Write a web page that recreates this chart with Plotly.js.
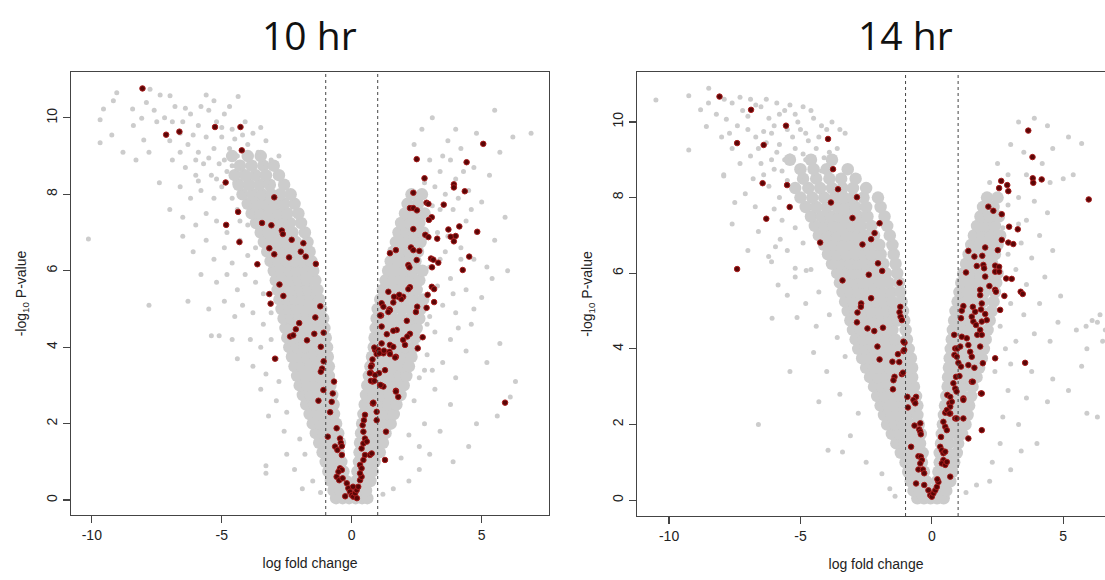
<!DOCTYPE html>
<html><head><meta charset="utf-8">
<script src="https://cdn.plot.ly/plotly-3.0.1.min.js"></script>
<style>html,body{margin:0;padding:0;overflow:hidden;background:#fff}#chart{width:1115px;height:580px}</style>
</head><body><div id="chart"></div>
<script>
const panelTitles = ['10 hr', '14 hr'];
const xTitle = 'log fold change';
const yTitle = '-log<sub>10</sub> P-value';
const xTickVals = [-10, -5, 0, 5];
const xTickText = ['-10', '-5', '0', '5'];
const yTickVals = [0, 2, 4, 6, 8, 10];
const yTickText = ['0', '2', '4', '6', '8', '10'];
const foldThresholds = [-1, 1];

// dense gray cloud, rows: [y, x1, x2, ...]
const core10 = [
[0.05,-0.6,-0.35,-0.1,0.15,0.4,0.6],
[0.25,-0.7,-0.45,-0.2,0.05,0.3,0.55],
[0.5,-0.8,-0.5,-0.22,0.18,0.45,0.72],
[0.75,-0.9,-0.62,-0.32,0.22,0.5,0.8],
[1,-1.0,-0.7,-0.4,0.28,0.58,0.88],
[1.25,-1.12,-0.82,-0.5,0.3,0.6,0.9,1.08],
[1.5,-1.25,-0.95,-0.65,-0.45,0.32,0.62,0.92,1.2],
[1.75,-1.38,-1.08,-0.78,-0.52,0.36,0.66,0.96,1.3],
[2,-1.5,-1.2,-0.9,-0.6,0.4,0.7,1.0,1.3,1.5],
[2.25,-1.62,-1.32,-1.02,-0.68,0.45,0.75,1.05,1.35,1.62],
[2.5,-1.75,-1.45,-1.15,-0.85,-0.7,0.5,0.8,1.1,1.4,1.72],
[2.75,-1.88,-1.58,-1.28,-0.98,-0.75,0.55,0.85,1.15,1.45,1.75,1.88],
[3,-2.0,-1.7,-1.4,-1.1,-0.82,0.6,0.9,1.2,1.5,1.8,2.0],
[3.25,-2.1,-1.8,-1.5,-1.2,-0.88,0.66,0.96,1.26,1.56,1.86,2.1],
[3.5,-2.2,-1.9,-1.6,-1.3,-1.0,-0.88,0.72,1.02,1.32,1.62,1.92,2.2],
[3.75,-2.3,-2.0,-1.7,-1.4,-1.1,-0.92,0.78,1.08,1.38,1.68,1.98,2.3],
[4,-2.4,-2.1,-1.8,-1.5,-1.2,-0.95,0.85,1.15,1.45,1.75,2.05,2.38],
[4.25,-2.48,-2.18,-1.88,-1.58,-1.28,-1.0,0.88,1.18,1.48,1.78,2.1,2.45],
[4.5,-2.55,-2.25,-1.95,-1.65,-1.35,-1.05,0.92,1.22,1.52,1.82,2.15,2.5],
[4.75,-2.62,-2.32,-2.02,-1.72,-1.42,-1.1,0.96,1.26,1.56,1.9,2.25,2.6],
[5,-2.7,-2.4,-2.1,-1.8,-1.5,-1.18,1.0,1.3,1.6,1.95,2.3,2.65],
[5.25,-2.78,-2.48,-2.18,-1.88,-1.58,-1.25,1.1,1.4,1.7,2.05,2.4,2.75],
[5.5,-2.85,-2.55,-2.25,-1.95,-1.65,-1.32,1.2,1.5,1.82,2.15,2.5],
[5.75,-2.92,-2.62,-2.32,-2.02,-1.72,-1.4,1.3,1.6,1.92,2.25,2.6],
[6,-3.0,-2.7,-2.4,-2.1,-1.8,-1.48,1.4,1.7,2.02,2.35,2.72],
[6.25,-3.12,-2.82,-2.52,-2.22,-1.9,-1.55,1.5,1.8,2.1,2.45],
[6.5,-3.25,-2.95,-2.65,-2.35,-2.0,-1.62,1.6,1.9,2.2,2.55],
[6.75,-3.38,-3.08,-2.78,-2.48,-2.15,-1.7,1.7,2.0,2.3,2.65],
[7,-3.5,-3.2,-2.9,-2.6,-2.28,-1.8,1.8,2.1,2.4,2.75],
[7.25,-3.68,-3.35,-3.02,-2.7,-2.38,-1.95,1.9,2.25,2.6],
[7.5,-3.85,-3.5,-3.15,-2.82,-2.48,-2.05,2.05,2.4,2.8],
[7.75,-4.0,-3.65,-3.3,-2.95,-2.6,-2.2,2.15,2.55],
[8,-4.2,-3.8,-3.45,-3.1,-2.75,-2.35,2.3,2.7],
[8.25,-4.35,-3.95,-3.55,-3.15,-2.6],
[8.5,-4.5,-4.1,-3.7,-3.3,-2.8],
[8.75,-4.3,-3.85,-3.4,-3.0],
[9,-4.6,-4.0,-3.5]
];

const core14 = [
[0.05,-0.55,-0.3,-0.05,0.2,0.45],
[0.25,-0.7,-0.45,-0.2,0.05,0.3,0.55],
[0.5,-0.8,-0.5,-0.22,0.2,0.45,0.7],
[0.75,-0.9,-0.62,-0.3,0.25,0.55,0.78],
[1,-1.0,-0.7,-0.38,0.3,0.58,0.85],
[1.25,-1.18,-0.88,-0.58,-0.35,0.3,0.6,0.95],
[1.5,-1.35,-1.05,-0.75,-0.45,0.35,0.65,1.0],
[1.75,-1.52,-1.22,-0.92,-0.62,-0.42,0.38,0.68,0.98,1.15],
[2,-1.7,-1.4,-1.1,-0.8,-0.5,0.42,0.72,1.02,1.28],
[2.25,-1.82,-1.52,-1.22,-0.92,-0.55,0.46,0.76,1.06,1.36],
[2.5,-1.95,-1.65,-1.35,-1.05,-0.75,-0.55,0.5,0.8,1.1,1.42],
[2.75,-2.08,-1.78,-1.48,-1.18,-0.88,-0.6,0.55,0.85,1.15,1.5],
[3,-2.2,-1.9,-1.6,-1.3,-1.0,-0.68,0.6,0.9,1.2,1.55],
[3.25,-2.35,-2.05,-1.75,-1.45,-1.15,-0.75,0.62,0.92,1.22,1.52,1.7],
[3.5,-2.5,-2.2,-1.9,-1.6,-1.3,-0.95,-0.75,0.65,0.95,1.25,1.55,1.8],
[3.75,-2.65,-2.35,-2.05,-1.75,-1.45,-1.12,-0.8,0.68,0.98,1.28,1.58,1.9],
[4,-2.8,-2.5,-2.2,-1.9,-1.6,-1.3,-0.88,0.72,1.02,1.32,1.62,1.98],
[4.25,-2.9,-2.6,-2.3,-2.0,-1.7,-1.4,-0.95,0.76,1.06,1.36,1.7,2.05],
[4.5,-3.0,-2.7,-2.4,-2.1,-1.8,-1.5,-1.0,0.8,1.1,1.4,1.75,2.12],
[4.75,-3.1,-2.8,-2.5,-2.2,-1.9,-1.6,-1.3,-1.05,0.85,1.15,1.45,1.8,2.2],
[5,-3.2,-2.9,-2.6,-2.3,-2.0,-1.7,-1.4,-1.1,0.9,1.2,1.5,1.85,2.28],
[5.25,-3.3,-3.0,-2.7,-2.4,-2.1,-1.8,-1.5,-1.15,0.98,1.28,1.6,1.95,2.35],
[5.5,-3.4,-3.1,-2.8,-2.5,-2.2,-1.9,-1.55,-1.2,1.05,1.35,1.68,2.0,2.4],
[5.75,-3.5,-3.2,-2.9,-2.6,-2.3,-2.0,-1.65,-1.25,1.12,1.42,1.75,2.1,2.45],
[6,-3.6,-3.3,-3.0,-2.7,-2.4,-2.1,-1.75,-1.32,1.2,1.52,1.85,2.2,2.5],
[6.25,-3.8,-3.45,-3.1,-2.8,-2.5,-2.2,-1.85,-1.38,1.3,1.62,1.95,2.3],
[6.5,-3.95,-3.6,-3.25,-2.9,-2.6,-2.3,-1.95,-1.45,1.4,1.72,2.05,2.4],
[6.75,-4.1,-3.75,-3.4,-3.05,-2.7,-2.35,-2.0,-1.5,1.5,1.82,2.15,2.5],
[7,-4.3,-3.95,-3.6,-3.25,-2.9,-2.55,-2.2,-1.6,1.6,1.92,2.25,2.6],
[7.25,-4.45,-4.1,-3.75,-3.4,-3.05,-2.7,-2.3,-1.7,1.72,2.05,2.4],
[7.5,-4.6,-4.2,-3.85,-3.5,-3.15,-2.8,-2.45,-1.8,1.85,2.2,2.55],
[7.75,-4.8,-4.4,-4.0,-3.6,-3.25,-2.9,-2.5,-1.95,1.95,2.35],
[8,-5.0,-4.55,-4.1,-3.7,-3.35,-3.0,-2.6,-2.05,2.1,2.5],
[8.25,-5.2,-4.7,-4.25,-3.8,-3.4,-3.0,-2.5],
[8.5,-4.9,-4.4,-3.9,-3.45,-2.9],
[8.75,-5.0,-4.5,-4.0,-3.2],
[9,-5.4,-4.6,-3.8]
];

// scattered gray genes [x, y]
const sparse10 = [
[-10.13,6.83],[-9.04,10.66],[-9.17,10.45],[-9.55,10.23],[-9.68,9.95],[-9.23,9.55],[-9.68,9.35],[-8.43,10.23],[-8.08,9.99],[-8.0,9.42],[-8.4,9.8],[-8.8,9.1],[-8.3,8.9],[-7.76,10.75],[-7.37,10.6],[-6.99,10.58],[-7.6,10.2],[-7.2,10.0],[-6.8,10.3],[-6.5,9.9],[-6.2,10.1],[-5.9,9.8],[-5.6,10.6],[-5.5,10.2],[-5.2,9.9],[-4.9,10.1],[-4.6,9.7],[-4.37,10.56],[-4.1,9.9],[-3.8,9.6],[-7.8,9.1],[-7.0,9.4],[-6.6,9.6],[-6.3,9.3],[-5.9,9.1],[-5.6,9.5],[-5.3,9.2],[-5.0,9.5],[-4.7,9.2],[-4.4,9.0],[-4.0,9.3],[-3.6,9.1],[-3.3,9.4],[-7.4,8.3],[-6.9,8.9],[-6.4,8.7],[-6.0,8.5],[-5.7,8.8],[-5.4,8.5],[-5.1,8.8],[-4.8,8.6],[-4.5,8.3],[-4.2,8.7],[-3.9,8.45],[-3.45,8.7],[-3.1,8.9],[-2.8,9.0],[-6.6,8.2],[-6.2,7.9],[-5.8,8.1],[-5.3,7.9],[-5.0,8.2],[-4.6,7.9],[-7.0,7.6],[-6.5,7.4],[-6.0,7.2],[-5.6,7.5],[-5.2,7.3],[-4.8,7.0],[-4.4,7.6],[-4.0,7.2],[-6.5,6.9],[-6.1,6.5],[-5.6,6.8],[-5.3,6.3],[-4.9,6.6],[-4.6,6.2],[-4.3,6.8],[-4.0,6.4],[-3.7,6.6],[-5.8,5.9],[-5.2,5.7],[-4.8,5.9],[-4.4,5.5],[-4.1,5.9],[-3.7,5.7],[-3.4,5.4],[-6.3,5.2],[-5.5,5.0],[-4.9,5.2],[-4.5,4.8],[-4.2,5.1],[-3.8,4.9],[-3.4,4.6],[-3.1,4.9],[-5.1,4.3],[-4.6,4.2],[-3.9,4.2],[-3.5,4.0],[-3.1,4.2],[-2.9,3.7],[-4.4,3.7],[-3.8,3.5],[-3.3,3.3],[-2.8,3.1],[-3.5,2.9],[-2.9,2.6],[-2.5,2.3],[-3.2,2.2],[-2.6,1.8],[-2.0,1.6],[-3.3,0.9],[-3.3,0.7],[-2.5,1.2],[-2.2,0.8],[-1.8,1.2],[-1.5,0.5],[-1.9,0.3],[-1.2,0.2],[-7.8,5.1],[-5.4,4.3],
[-7.9,10.4],[-7.5,9.9],[-6.9,9.9],[-6.4,10.25],[-6.1,9.55],[-5.8,10.3],[-5.3,10.45],[-5.0,9.75],[-4.7,10.3],[-4.5,9.45],[-4.2,9.55],[-3.9,9.0],[-3.5,9.75],[-6.6,9.1],[-6.0,8.9],[-5.5,8.95],[-4.9,8.9],[-4.6,8.75],[-3.7,8.6],[-3.3,8.3],[-5.2,8.4],[-5.9,8.35],[-4.1,8.1],[-3.7,7.9],[-4.3,7.3],[-3.9,7.7],
[3.0,1.2],[2.6,0.8],[2.2,0.5],[1.6,0.3],[1.2,0.15],[3.4,1.8],[2.8,2.0],[3.8,2.5],[3.2,2.9],[2.6,3.2],[4.0,3.2],[3.5,3.6],[2.9,3.8],[4.4,3.9],[3.8,4.2],[3.2,4.4],[4.6,4.6],[4.0,4.9],[3.5,5.1],[5.0,5.3],[4.4,5.5],[3.8,5.8],[3.3,5.6],[5.2,6.1],[4.7,6.3],[4.2,6.6],[3.6,6.5],[5.5,6.8],[4.8,7.0],[4.4,7.3],[3.9,7.6],[5.0,7.8],[4.5,8.1],[4.0,8.4],[3.4,8.6],[3.0,8.9],[4.7,8.7],[5.3,8.5],[4.2,9.2],[3.7,9.4],[4.8,9.6],[5.5,10.2],[6.9,9.6],[6.2,9.5],[5.7,9.1],[5.9,7.4],[6.3,3.1],[6.1,2.7],[5.6,2.2],[4.8,2.0],[4.5,1.4],[3.9,1.0],[5.2,3.6],[5.7,4.1],[2.4,9.3],[2.7,9.7],[3.1,10.0],[6.0,6.0],[3.3,7.0],[3.1,7.7],[2.8,8.3],[3.6,8.0],[4.1,7.9],[3.0,6.1],[3.4,6.3],[2.9,4.6],[3.1,3.4],[2.4,2.6],[2.2,1.7],[1.9,1.1],[2.6,1.4],
[3.5,9.0],[4.0,9.7],[4.3,8.6],[3.8,8.9],[3.2,8.2],[4.6,7.6],[3.4,7.6],[4.2,6.3],[3.7,6.9],[3.9,5.4],[3.0,4.8],[2.8,3.4],[4.1,4.5],[5.4,5.8],[4.7,5.0]
];

const sparse14 = [
[-10.5,10.58],[-9.25,10.69],[-8.49,10.89],[-8.8,10.32],[-8.5,10.5],[-9.25,9.26],[-8.58,9.88],[-7.82,10.07],[-7.92,8.57],[-7.5,7.87],[-6.72,7.76],[-7.6,10.5],[-7.2,10.3],[-6.9,10.6],[-6.5,10.4],[-6.2,10.1],[-5.9,10.5],[-5.6,10.3],[-5.2,10.2],[-4.9,10.4],[-4.5,10.1],[-4.2,9.9],[-3.8,10.0],[-7.4,9.9],[-7.0,9.8],[-6.7,9.6],[-6.1,9.7],[-5.8,9.4],[-5.3,9.6],[-5.0,9.8],[-4.7,9.5],[-4.4,9.3],[-3.6,9.3],[-3.3,9.7],[-6.9,9.1],[-6.5,8.9],[-6.1,9.0],[-5.7,8.7],[-5.4,9.1],[-5.1,8.8],[-4.8,9.0],[-4.2,8.7],[-6.8,8.5],[-6.2,8.3],[-5.8,8.0],[-7.1,8.1],[-6.0,7.7],[-5.7,7.4],[-5.2,7.2],[-6.6,7.1],[-4.9,6.8],[-5.5,6.6],[-6.1,6.3],[-4.6,6.1],[-5.2,5.9],[-4.3,5.5],[-4.8,5.2],[-3.9,4.9],[-4.4,4.6],[-3.6,4.3],[-5.85,5.69],[-5.5,5.42],[-6.08,4.81],[-5.13,4.83],[-5.77,6.9],[-5.95,6.7],[-6.21,6.44],[-5.2,6.13],[-4.78,6.07],[-7.92,8.6],[-6.6,2.0],[-3.95,1.32],[-3.4,1.27],[-2.5,1.0],[-1.9,0.7],[-1.6,0.3],[-3.1,1.7],[-2.8,2.3],[-3.5,2.8],[-4.0,3.4],[-1.4,0.1],[-3.3,3.8],[-4.5,3.9],[-5.4,3.4],[-4.3,2.6],[-7.6,7.3],[-7.0,6.6],
[-8.2,10.2],[-7.9,10.6],[-7.7,9.7],[-7.3,10.65],[-7.0,10.15],[-6.7,10.45],[-6.4,9.75],[-6.3,10.6],[-6.0,9.9],[-5.8,10.2],[-5.5,9.8],[-5.4,10.45],[-5.1,10.0],[-4.8,9.7],[-4.6,10.3],[-4.3,9.6],[-4.0,9.8],[-3.9,9.2],[-3.5,9.8],[-6.6,9.3],[-6.3,9.45],[-5.9,9.2],[-5.6,9.0],[-5.2,9.3],[-4.9,9.15],[-4.5,8.9],[-4.1,9.05],[-3.8,8.8],[-6.4,8.6],[-6.0,8.75],[-5.5,8.45],[-5.0,8.55],[-4.7,8.3],[-7.3,8.9],[-7.6,9.3],[-8.0,9.6],
[3.3,10.0],[3.9,10.1],[4.4,9.9],[5.2,9.6],[4.6,9.3],[3.5,9.2],[3.0,9.4],[4.2,8.9],[3.6,8.6],[4.5,8.4],[5.0,8.5],[3.3,8.0],[3.9,7.9],[4.4,7.6],[3.6,7.4],[4.1,7.0],[3.4,6.8],[4.6,6.6],[3.8,6.4],[3.2,6.1],[4.3,5.9],[3.6,5.7],[4.9,5.4],[4.1,5.2],[3.5,4.9],[4.8,4.7],[5.5,4.5],[6.3,4.7],[6.6,4.5],[6.4,4.9],[6.5,4.2],[5.9,4.0],[4.5,4.2],[3.9,4.4],[3.2,4.2],[3.0,3.6],[3.8,3.4],[4.6,3.2],[5.2,2.9],[5.9,2.3],[4.4,2.6],[3.6,2.7],[2.9,2.9],[3.3,2.0],[2.7,2.2],[4.0,1.5],[3.4,1.3],[2.6,1.5],[2.3,1.0],[2.2,0.5],[1.7,0.4],[1.3,0.2],[3.0,0.8],[2.4,3.4],[2.8,4.0],[2.6,4.6],[3.0,5.2],[2.9,6.5],[3.3,7.3],[2.7,7.2],[2.9,7.8],[6.3,2.2],[5.7,3.54],[5.38,8.6],[5.7,9.43],[5.87,4.6],[6.1,4.75],[2.5,8.9],[2.9,8.6],[2.2,8.4]
];

// highlighted (dark red) genes [x, y]
const red10 = [
[-8.05,10.77],[-7.14,9.56],[-6.63,9.64],[-5.26,9.76],[-4.28,9.76],[-4.23,9.15],[-4.85,8.31],[-2.98,7.92],[-4.37,7.54],[-4.83,7.2],[-3.45,7.25],[-3.09,7.19],[-2.69,7.05],[-2.65,6.96],[-4.32,6.75],[-2.31,6.81],[-1.86,6.72],[-3.17,6.59],[-2.98,6.43],[-1.96,6.5],[-1.77,6.37],[-2.41,6.35],[-1.38,6.18],[-3.63,6.17],[-2.78,5.64],[-3.17,5.39],[-2.63,5.34],[-3.12,5.14],[-1.21,5.07],[-1.4,4.78],[-2.02,4.63],[-2.15,4.47],[-1.08,4.38],[-1.44,4.35],[-2.37,4.28],[-2.25,4.31],[-1.72,4.18],[-1.19,4.01],[-2.95,3.7],[-1.08,3.63],[-1.14,3.44],[-1.19,3.36],[-0.68,3.1],[-1.09,2.88],[-0.73,2.79],[-1.28,2.6],[-0.77,2.57],[-0.83,2.3],[-0.58,1.88],[-0.92,1.66],[-0.45,1.61],[-0.42,1.5],[-0.64,1.4],[-0.38,1.41],[-0.55,1.31],[-0.38,1.18],[-0.45,0.83],[-0.38,0.79],[-0.51,0.74],[-0.58,0.61],[-0.48,0.52],[-0.35,0.57],[-0.19,0.44],[-0.13,0.31],[-0.07,0.22],[0,0.13],[0.06,0.09],[0.13,0.18],[0.19,0.26],[0.25,0.35],[0.32,0.52],[0.38,0.61],[0.32,0.92],[0.38,0.83],[0.32,0.7],[0.45,1.05],[0.51,1.18],[0.38,1.35],[0.45,1.48],[0.51,1.61],[0.58,1.53],[0.7,1.18],[0.77,1.22],[0.45,1.79],[0.42,1.96],[0.47,2.09],[0.51,2.23],[1.28,1.05],[1.32,1.79],[0.96,2.09],[0.96,2.31],[0.83,2.53],[0.8,3.1],[1.09,3.01],[1.7,2.86],[-0.25,0.1],[0.2,0.05],[0.05,0.35],
[1.7,6.54],[1.47,6.46],[1.41,5.45],[1.15,5.15],[1.22,5.06],[1.45,4.99],[1.79,5.32],[1.6,5.17],[1.13,4.83],[1.15,4.54],[1.35,4.34],[1.73,4.45],[0.9,3.93],[0.96,3.82],[1.02,3.93],[1.22,3.84],[1.45,3.88],[1.7,3.75],[0.77,3.53],[0.74,3.33],[0.74,3.12],[0.87,3.12],[1.05,3.32],[1.28,3.4],[1.15,2.99],[1.22,2.97],[0.81,2.53],[1.79,2.7],
[5.06,9.32],[2.5,8.92],[4.42,8.84],[2.8,8.42],[3.93,8.26],[3.93,8.18],[4.35,8.08],[2.37,8.04],[2.88,7.78],[2.95,7.75],[3.54,7.73],[2.24,7.64],[2.37,7.64],[2.51,7.58],[3.08,7.4],[2.97,7.33],[2.37,7.09],[4.83,7.02],[3.72,7.08],[3.81,6.89],[3.93,6.77],[4.0,6.91],[2.83,6.94],[2.95,6.88],[3.29,6.84],[4.14,7.16],[2.28,6.61],[2.37,6.54],[2.6,6.52],[2.5,6.28],[3.05,6.32],[3.14,6.29],[3.33,6.21],[2.18,6.15],[2.22,6.09],[3.09,6.09],[4.52,6.37],[4.27,6.02],[2.24,5.57],[2.18,5.52],[3.08,5.58],[3.17,5.52],[1.98,5.32],[1.91,5.26],[1.83,5.37],[1.63,5.32],[2.92,5.37],[1.47,4.97],[1.41,4.92],[2.52,5.06],[2.47,4.92],[2.88,5.03],[3.17,5.18],[1.09,4.83],[2.12,4.69],[1.6,4.43],[2.24,4.35],[2.14,4.28],[1.98,4.19],[2.73,4.26],[1.15,4.1],[1.47,4.06],[1.6,4.01],[2.05,4.06],[0.87,3.99],[1.06,3.84],[1.24,3.91],[1.47,3.82],[1.67,3.73],[2.54,3.97],[0.8,3.68],[0.74,3.49],[0.7,3.32],[0.9,3.27],[1.11,3.01],[1.7,2.84],[0.83,2.55],[5.9,2.55]
];

const red14 = [
[-8.08,10.67],[-6.88,10.32],[-5.55,9.9],[-3.95,9.55],[-7.41,9.44],[-6.4,9.39],[-3.76,8.75],[-6.44,8.38],[-5.51,8.33],[-3.57,8.22],[-3.84,7.87],[-2.85,8.01],[-5.41,7.75],[-6.3,7.44],[-3.02,7.46],[-1.99,7.32],[-2.18,7.06],[-2.31,6.9],[-2.64,6.76],[-4.25,6.81],[-7.41,6.11],[-2.05,6.26],[-1.89,6.06],[-2.4,5.96],[-1.23,5.75],[-3.4,5.81],[-2.31,5.34],[-2.69,5.2],[-2.7,5.11],[-2.83,4.96],[-1.23,4.97],[-1.19,4.85],[-2.85,4.7],[-2.45,4.54],[-2.19,4.47],[-1.86,4.56],[-1.04,4.16],[-2.07,4.06],[-1.08,3.94],[-1.99,3.72],[-1.29,3.86],[-1.5,3.66],[-1.24,3.65],[-1.14,3.33],[-1.42,3.26],[-1.46,3.17],[-1.48,2.93],[-0.6,2.73],[-0.66,2.6],[-0.91,2.45],[-0.44,2.03],[-0.48,1.87],[-0.44,1.81],[-0.42,1.74],[-0.66,1.97],[-0.79,1.41],[-0.51,1.16],[-0.42,1.15],[-0.38,1.06],[-0.44,0.97],[-0.51,0.81],[-0.34,0.81],[-0.29,0.71],[-0.6,0.44],[-0.29,0.4],[-0.13,0.26],[-0.06,0.13],[0,0.09],[0.06,0.18],[0.13,0.26],[0.19,0.35],[0.25,0.48],[0.21,0.55],[0.32,1.41],[0.38,1.32],[0.44,1.24],[0.51,1.28],[0.44,1.06],[0.38,0.97],[0.51,0.93],[0.57,1.01],[0.35,1.67],[0.7,0.62],[0.44,2.07],[0.51,1.94],[0.57,1.85],[0.7,2.29],[0.51,2.31],[0.82,3.09],[0.59,2.78],[0.67,2.56],[0.7,2.47],[0.89,2.16],[1.9,1.85],[1.39,1.63],[1.2,2.69],[1.52,3.13],[1.87,2.82],[-0.7,2.65],[-0.63,2.56],[-1.08,4.19],[-1.05,3.97],[-1.14,4.76],[-1.2,5.11],[-1.1,3.37],[-0.93,2.73],
[3.67,9.77],[3.83,9.07],[3.84,8.51],[3.86,8.39],[4.18,8.48],[2.64,8.44],[2.56,8.25],[2.87,8.33],[2.91,8.17],[5.97,7.95],[2.15,7.76],[2.34,7.65],[2.66,7.56],[2.94,7.23],[3.27,7.16],[2.66,6.88],[2.91,6.81],[3.1,6.77],[2.51,6.61],[1.39,6.59],[2.03,6.68],[1.62,6.44],[1.92,6.46],[1.71,6.19],[1.96,6.22],[1.99,6.13],[2.41,6.2],[2.56,6.17],[2.41,6.04],[2.56,6.04],[1.3,6.02],[2.03,5.91],[2.83,5.86],[3.04,5.85],[1.84,5.56],[2.19,5.66],[2.41,5.56],[2.44,5.51],[2.76,5.4],[3.38,5.51],[3.46,5.45],[1.2,5.13],[1.14,5.01],[1.11,4.81],[1.56,5.11],[1.65,4.98],[1.52,4.85],[1.58,4.72],[1.68,4.63],[1.9,5.2],[1.87,5.04],[2.03,4.92],[2.09,4.76],[1.9,4.72],[1.84,5.42],[1.84,4.5],[1.73,4.37],[1.9,4.37],[2.6,5.03],[0.85,4.37],[1.14,4.32],[1.33,4.28],[0.89,4.01],[0.97,4.01],[1.08,4.06],[1.39,4.1],[1.46,3.92],[1.52,3.79],[1.84,4.06],[0.86,3.84],[0.95,3.79],[1.01,3.63],[1.11,3.53],[1.39,3.57],[1.62,3.5],[1.94,3.62],[2.41,3.75],[3.55,3.63],[0.92,3.26],[1.05,3.28],[1.56,3.13],[0.89,2.95],[0.94,2.87],[1.9,2.82],[0.7,2.73],[0.76,2.6],[1.2,2.65],[0.57,2.38],[0.67,2.29],[0.95,2.16],[1.2,2.16]
];

const W = 1115, H = 580;
function rowsX(rows){const o=[];rows.forEach(r=>{for(let i=1;i<r.length;i++)o.push(r[i]);});return o;}
function rowsY(rows){const o=[];rows.forEach(r=>{for(let i=1;i<r.length;i++)o.push(r[0]);});return o;}
const GRAY = '#cccccc';
function coreTrace(rows, xa, ya){return {type:'scatter',mode:'markers',x:rowsX(rows),y:rowsY(rows),xaxis:xa,yaxis:ya,marker:{size:12.5,color:GRAY},hoverinfo:'skip'};}
function sparseTrace(pts, xa, ya){return {type:'scatter',mode:'markers',x:pts.map(p=>p[0]),y:pts.map(p=>p[1]),xaxis:xa,yaxis:ya,marker:{size:5,color:GRAY},hoverinfo:'skip'};}
function redTrace(pts, xa, ya){return {type:'scatter',mode:'markers',x:pts.map(p=>p[0]),y:pts.map(p=>p[1]),xaxis:xa,yaxis:ya,marker:{size:5.5,color:'#5a0606',line:{color:'#a81c1c',width:1}},hoverinfo:'skip'};}

const data = [
  coreTrace(core10,'x','y'), sparseTrace(sparse10,'x','y'), redTrace(red10,'x','y'),
  coreTrace(core14,'x2','y2'), sparseTrace(sparse14,'x2','y2'), redTrace(red14,'x2','y2')
];

const FONT = 'Liberation Sans, Arial, sans-serif';
const tickFont = {family:FONT, size:14, color:'#222'};
const axTitleFont = {family:FONT, size:14, color:'#222'};
const LINE = '#444';
function xAxis(dom, rng, anchor){return {domain:dom, range:rng, anchor:anchor, showgrid:false, zeroline:false, showline:true, mirror:true, linecolor:LINE, linewidth:1.2, ticks:'outside', ticklen:7, tickcolor:LINE, tickwidth:1.2, tickmode:'array', tickvals:xTickVals, ticktext:xTickText, tickfont:tickFont, title:{text:xTitle, font:axTitleFont, standoff:16}, automargin:false};}
function yAxis(dom, rng, anchor){return {domain:dom, range:rng, anchor:anchor, showgrid:false, zeroline:false, showline:true, mirror:true, linecolor:LINE, linewidth:1.2, ticks:'outside', ticklen:7, tickcolor:LINE, tickwidth:1.2, tickmode:'array', tickvals:yTickVals, ticktext:yTickText, tickangle:-90, tickfont:tickFont, title:{text:yTitle, font:axTitleFont, standoff:14}, automargin:false};}

const shapes = [];
[['x','y'],['x2','y2']].forEach(([xa,ya])=>{
  foldThresholds.forEach(t=>{
    shapes.push({type:'line', xref:xa, yref:ya+' domain', x0:t, x1:t, y0:0, y1:1, line:{color:'#444', width:1, dash:'dot'}});
  });
});

const titleFont = {family:'Open Sans, Noto Sans, sans-serif', size:39, color:'#111'};
const annotations = [
  {text:panelTitles[0], x:309/W, y:1-35/H, xref:'paper', yref:'paper', showarrow:false, font:titleFont, xanchor:'center', yanchor:'middle'},
  {text:panelTitles[1], x:905/W, y:1-35/H, xref:'paper', yref:'paper', showarrow:false, font:titleFont, xanchor:'center', yanchor:'middle'}
];

const layout = {
  width:W, height:H, margin:{l:0,r:0,t:0,b:0}, paper_bgcolor:'#fff', plot_bgcolor:'#fff', showlegend:false,
  xaxis: xAxis([71/W, 549/W], [-10.8, 7.59], 'y'),
  yaxis: yAxis([(H-515)/H, (H-72)/H], [-0.39, 11.2], 'x'),
  xaxis2: xAxis([637/W, 1], [-11.22, 6.97], 'y2'),
  yaxis2: yAxis([(H-516)/H, (H-72)/H], [-0.42, 11.32], 'x2'),
  shapes: shapes, annotations: annotations
};
Plotly.newPlot('chart', data, layout, {displayModeBar:false, staticPlot:true});
</script></body></html>
